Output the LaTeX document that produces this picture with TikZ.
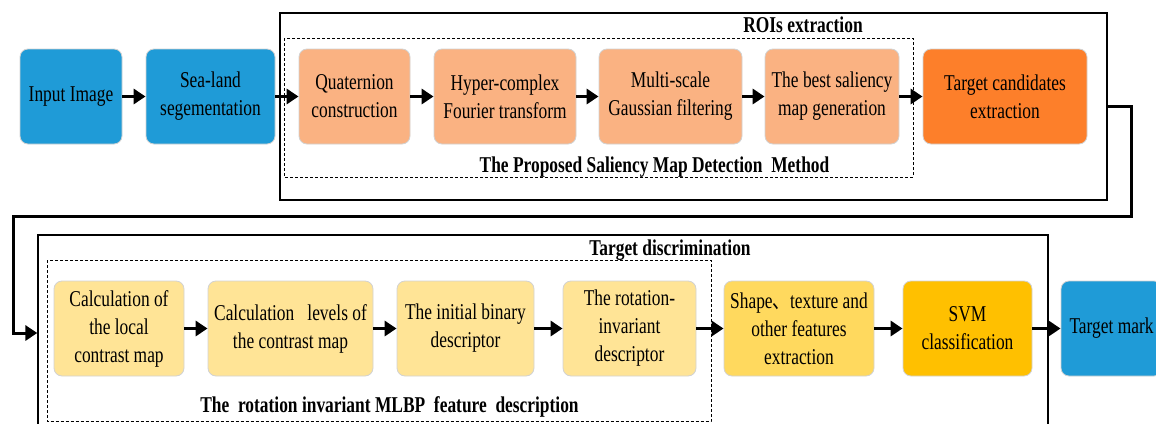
\documentclass[tikz,border=0pt]{standalone}
\usepackage{fontspec}
\setmainfont{Liberation Serif}[FakeStretch=0.77]
\newfontfamily\cjk{Noto Sans CJK SC}[FakeStretch=0.77]
\usetikzlibrary{arrows.meta}

\definecolor{seablue}{HTML}{1F9BD7}
\definecolor{peach}{HTML}{FAB282}
\definecolor{deeporange}{HTML}{FD7F2A}
\definecolor{paleyellow}{HTML}{FFE496}
\definecolor{midyellow}{HTML}{FFD95E}
\definecolor{gold}{HTML}{FFC000}

\begin{document}
\begin{tikzpicture}[x=1pt, y=-1pt, > = {Triangle[length=12pt,width=15pt]},
    stage/.style = {draw=gray!35, line width=0.8pt, rounded corners=8pt, align=center, minimum height=95pt, inner sep=2pt, font=\fontsize{22.6}{28}\selectfont},
    flow/.style = {line width=3pt, ->},
    group/.style = {draw, line width=1.3pt, inner sep=0pt},
    subgroup/.style = {draw, line width=0.9pt, dash pattern=on 3pt off 2pt},
    title/.style = {font=\fontsize{22.6}{28}\selectfont\bfseries, anchor=base}]

    \useasboundingbox (0,0) rectangle (1156,423);

    % frames
    \node[group, minimum width=827pt, minimum height=187pt] (roi) at (693.5,106.5) {};
    \node[group, minimum width=1010pt, minimum height=196pt] (disc) at (543,333) {};
    \draw[subgroup] (284,38) rectangle (913,177);
    \draw[subgroup] (47,260) rectangle (711,421.5);
    \node[title] (roit) at (803,32) {ROIs extraction};
    \node[title] (salt) at (654.5,172) {The Proposed Saliency Map Detection\ \ Method};
    \node[title] (disct) at (670,255) {Target discrimination};
    \node[title] (mlbpt) at (389.5,412) {The\ \ rotation invariant MLBP\ \ feature\ \ description};

    % ROIs extraction
    \node[stage, fill=seablue, minimum width=102pt] (inp) at (71,96.5) {Input Image};
    \node[stage, fill=seablue, minimum width=129pt] (sea) at (210.5,96.5) {Sea-land\\segementation};
    \node[stage, fill=peach, minimum width=111pt] (quat) at (354.5,96.5) {Quaternion\\construction};
    \node[stage, fill=peach, minimum width=142pt] (hfft) at (505,96.5) {Hyper-complex\\Fourier transform};
    \node[stage, fill=peach, minimum width=143pt] (gauss) at (670.5,96.5) {Multi-scale\\Gaussian filtering};
    \node[stage, fill=peach, minimum width=134pt] (best) at (832,96.5) {The best saliency\\map generation};
    \node[stage, fill=deeporange, minimum width=164pt] (cand) at (1005,96.5) {Target candidates\\extraction};

    % target discrimination
    \node[stage, fill=paleyellow, minimum width=130pt] (lcm) at (119,328.5) {Calculation of\\the local\\contrast map};
    \node[stage, fill=paleyellow, minimum width=165pt] (lev) at (290.5,328.5) {Calculation\ \ \ levels of\\the contrast map};
    \node[stage, fill=paleyellow, minimum width=137pt] (ibd) at (465.5,328.5) {The initial binary\\descriptor};
    \node[stage, fill=paleyellow, minimum width=133pt] (rid) at (629.5,328.5) {The rotation-\\invariant\\descriptor};
    \node[stage, fill=midyellow, minimum width=150pt] (feat) at (799,328.5) {Shape{\cjk 、}texture and\\other features\\extraction};
    \node[stage, fill=gold, minimum width=129pt] (svm) at (967.5,328.5) {SVM\\classification};
    \node[stage, fill=seablue, minimum width=101pt] (mark) at (1111.5,328.5) {Target mark};

    % arrows
    \draw[flow] (inp) -- (sea);
    \draw[flow] (sea) -- (quat);
    \draw[flow] (quat) -- (hfft);
    \draw[flow] (hfft) -- (gauss);
    \draw[flow] (gauss) -- (best);
    \draw[flow] (best) -- (cand);
    \draw[flow] (lcm) -- (lev);
    \draw[flow] (lev) -- (ibd);
    \draw[flow] (ibd) -- (rid);
    \draw[flow] (rid) -- (feat);
    \draw[flow] (feat) -- (svm);
    \draw[flow] (svm) -- (mark);
    \coordinate (turn) at (1131,216);
    \draw[flow] (roi.east) -| (turn) -- (13,216) |- (disc.west);

\end{tikzpicture}
\end{document}
